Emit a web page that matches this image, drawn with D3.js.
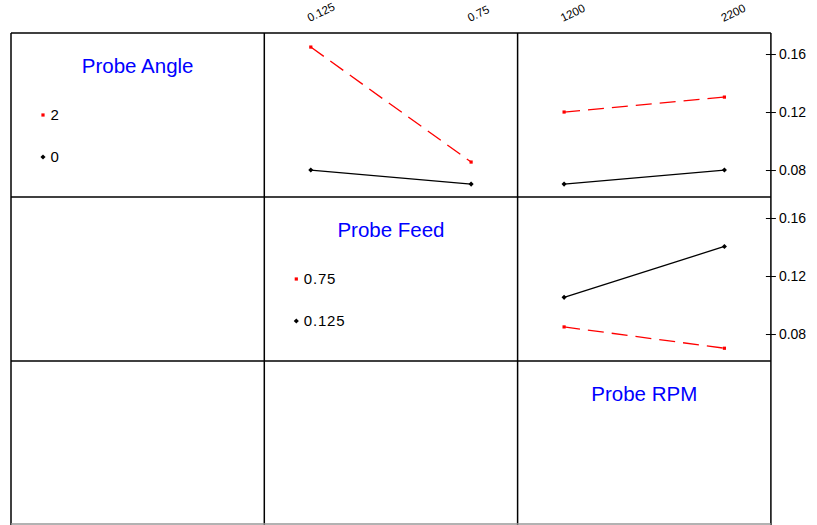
<!DOCTYPE html>
<html>
<head>
<meta charset="utf-8">
<script src="https://cdn.jsdelivr.net/npm/d3@7"></script>
<style>
  body { margin: 0; background: #fff; }
  text { font-family: "Liberation Sans", Arial, sans-serif; }
</style>
</head>
<body>
<div id="vis"></div>
<script>
// factor names and levels
const factorNames = ["Probe Angle", "Probe Feed", "Probe RPM"];
const angleLevels = ["0", "2"];
const feedLevels = ["0.125", "0.75"];
const rpmLevels = ["1200", "2200"];
const yTicks = [0.08, 0.12, 0.16];

// interaction means
const angleFeed0 = [0.080, 0.0703];
const angleFeed2 = [0.1648, 0.0855];
const angleRpm0 = [0.0703, 0.080];
const angleRpm2 = [0.120, 0.1303];
const feedRpm0125 = [0.1053, 0.1404];
const feedRpm075 = [0.0849, 0.0702];

const width = 817, height = 525;
const leftX = 11, topY = 33, cellW = 253.3, cellH = 164;

const svg = d3.select("#vis").append("svg")
    .attr("width", width)
    .attr("height", height);

const xCol = d3.scaleLinear().domain([0, 3]).range([leftX, leftX + 3 * cellW]);
const yRow = d3.scaleLinear().domain([0, 3]).range([topY, topY + 3 * cellH]);

function yScale(row){
    return d3.scaleLinear().domain([0.0614, 0.1745]).range([yRow(row + 1), yRow(row)]);
}
function xScale(col, levels){
    return d3.scalePoint().domain(levels).range([xCol(col), xCol(col + 1)]).padding(0.29);
}

const panels = [
    {row: 0, col: 1, levels: feedLevels, series: [angleFeed0, angleFeed2]},
    {row: 0, col: 2, levels: rpmLevels, series: [angleRpm0, angleRpm2]},
    {row: 1, col: 2, levels: rpmLevels, series: [feedRpm0125, feedRpm075]}
];

const styles = [
    {color: "#000000", dash: null},
    {color: "#ff0000", dash: "16,8"}
];

function marker(g, x, y, k){
    if (k === 0){
        g.append("path")
            .attr("d", d3.symbol().type(d3.symbolSquare).size(13)())
            .attr("transform", "translate(" + x + "," + y + ") rotate(45)")
            .attr("fill", "#000");
    } else {
        g.append("rect")
            .attr("x", x - 1.6).attr("y", y - 1.6)
            .attr("width", 3.2).attr("height", 3.2)
            .attr("fill", "#ff0000");
    }
}

// panels
panels.forEach(function(p){
    const x = xScale(p.col, p.levels);
    const y = yScale(p.row);
    const g = svg.append("g");
    const line = d3.line().x(function(d, i){ return x(p.levels[i]); }).y(function(d){ return y(d); });
    p.series.forEach(function(s, k){
        g.append("path")
            .attr("d", line(s))
            .attr("fill", "none")
            .attr("stroke", styles[k].color)
            .attr("stroke-width", 1.3)
            .attr("stroke-dasharray", styles[k].dash);
        s.forEach(function(v, i){ marker(g, x(p.levels[i]), y(v), k); });
    });
});

// top level labels, rotated
[[1, feedLevels], [2, rpmLevels]].forEach(function(c){
    const x = xScale(c[0], c[1]);
    c[1].forEach(function(l){
        svg.append("text")
            .attr("transform", "translate(" + (x(l) - 1) + ",22) rotate(-26)")
            .attr("font-size", 11.5)
            .attr("fill", "#000")
            .text(l);
    });
});

// right axes
[0, 1].forEach(function(r){
    const axis = d3.axisRight(yScale(r)).tickValues(yTicks).tickFormat(d3.format(".2f")).tickSize(5).tickPadding(3);
    const ax = svg.append("g")
        .attr("transform", "translate(" + xCol(3) + ",0)")
        .call(axis);
    ax.select(".domain").remove();
    ax.selectAll(".tick line").attr("x1", -5).attr("stroke", "#000");
    ax.selectAll(".tick text").attr("font-size", 14).attr("fill", "#000")
        .attr("font-family", "Liberation Sans, Arial, sans-serif");
});

// diagonal titles
factorNames.forEach(function(n, i){
    svg.append("text")
        .attr("x", (xCol(i) + xCol(i + 1)) / 2)
        .attr("y", yRow(i) + 39.5)
        .attr("text-anchor", "middle")
        .attr("font-size", 20.5)
        .attr("fill", "#0000ff")
        .text(n);
});

// legends
[[0, [angleLevels[1], angleLevels[0]]], [1, [feedLevels[1], feedLevels[0]]]].forEach(function(c){
    const i = c[0];
    const g = svg.append("g");
    c[1].forEach(function(l, j){
        const lx = xCol(i) + 32;
        const ly = yRow(i) + 82 + j * 42;
        marker(g, lx, ly, 1 - j);
        g.append("text")
            .attr("x", lx + 7.5)
            .attr("y", ly + 5)
            .attr("font-size", 15)
            .attr("letter-spacing", 0.8)
            .attr("fill", "#000")
            .text(l);
    });
});

// grid lines
const grid = svg.append("g").attr("stroke", "#000").attr("stroke-width", 1.5);
d3.range(4).forEach(function(i){
    grid.append("line")
        .attr("x1", xCol(i)).attr("x2", xCol(i))
        .attr("y1", topY).attr("y2", yRow(3));
});
d3.range(3).forEach(function(i){
    grid.append("line")
        .attr("x1", leftX).attr("x2", xCol(3))
        .attr("y1", yRow(i)).attr("y2", yRow(i));
});
grid.append("line")
    .attr("x1", leftX).attr("x2", xCol(3))
    .attr("y1", height - 1).attr("y2", height - 1)
    .attr("stroke", "#999");
</script>
</body>
</html>
